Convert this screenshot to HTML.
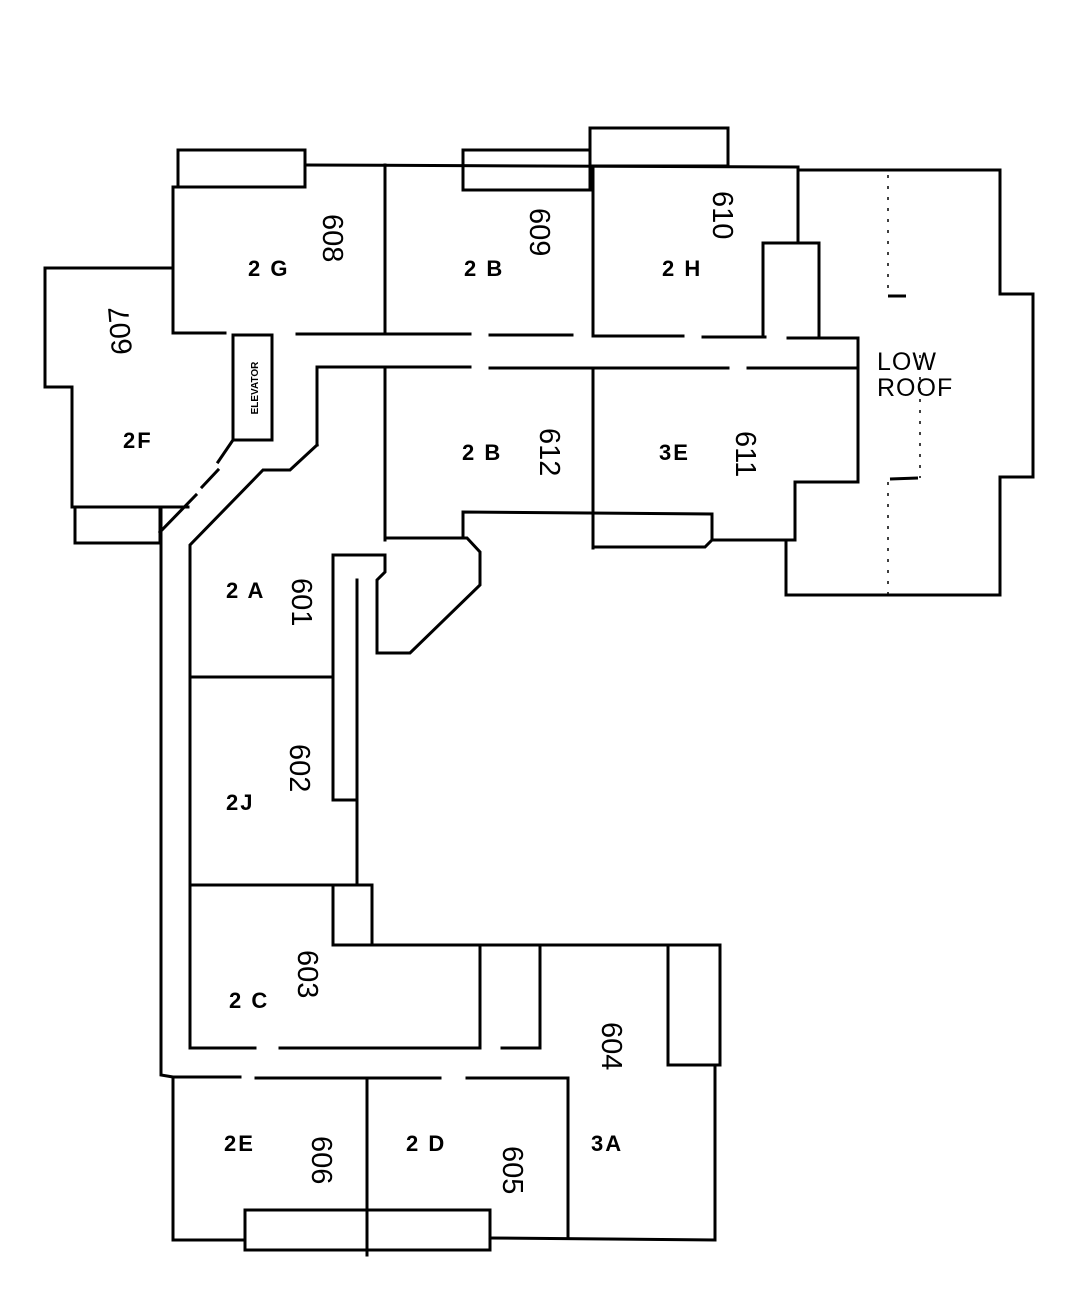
<!DOCTYPE html>
<html><head><style>
html,body{margin:0;padding:0;background:#fff;}
svg{display:block;}
.l{font-family:"Liberation Sans",sans-serif;font-weight:bold;font-size:22px;fill:#000;letter-spacing:2px;}
.n{font-family:"Liberation Sans",sans-serif;font-size:29px;fill:#000;}
</style></head><body>
<svg width="1080" height="1310" viewBox="0 0 1080 1310" xmlns="http://www.w3.org/2000/svg">
<g fill="none" stroke="#000" stroke-width="3" stroke-linecap="square">
<rect x="178" y="150" width="127" height="37"/>
<rect x="463" y="150" width="127" height="40"/>
<rect x="590" y="128" width="138" height="38"/>
<polyline points="173,333 173,187 305,187"/>
<line x1="305" y1="165" x2="798" y2="167"/>
<line x1="385" y1="165" x2="385" y2="333"/>
<line x1="593" y1="167" x2="593" y2="333"/>
<polyline points="798,167 798,243 763,243 763,335"/>
<polyline points="798,243 819,243 819,338"/>
<line x1="173" y1="333" x2="225" y2="333"/>
<line x1="297" y1="334" x2="470" y2="334"/>
<line x1="490" y1="335" x2="572" y2="335"/>
<line x1="593" y1="336" x2="683" y2="336"/>
<line x1="703" y1="337" x2="765" y2="337"/>
<line x1="788" y1="338" x2="858" y2="338"/>
<polyline points="317,445 317,367 470,367"/>
<line x1="490" y1="368" x2="728" y2="368"/>
<line x1="748" y1="368" x2="855" y2="368"/>
<line x1="858" y1="338" x2="858" y2="482"/>
<polyline points="173,268 45,268 45,387 72,387 72,507 188,507"/>
<rect x="75" y="507" width="85" height="36"/>
<rect x="233" y="335" width="39" height="105"/>
<line x1="233" y1="440" x2="218" y2="462"/>
<line x1="218" y1="470" x2="202" y2="487"/>
<line x1="196" y1="495" x2="160" y2="532"/>
<polyline points="161,510 161,1075 173,1077"/>
<polyline points="317,445 290,470 263,470 190,545 190,1048"/>
<line x1="385" y1="367" x2="385" y2="540"/>
<line x1="593" y1="368" x2="593" y2="548"/>
<polyline points="858,482 795,482 795,540 712,540 705,547 593,547"/>
<polyline points="463,538 463,512 712,514 712,540"/>
<polyline points="385,538 467,538 480,552 480,585 410,653 377,653 377,580 385,572 385,555 333,555 333,800 357,800 357,885"/>
<line x1="357" y1="800" x2="357" y2="580"/>
<polyline points="800,170 1000,170 1000,294 1033,294 1033,477 1000,477 1000,595 786,595 786,540"/>
<line x1="190" y1="677" x2="333" y2="677"/>
<polyline points="190,885 372,885 372,945"/>
<polyline points="333,885 333,945 668,945"/>
<line x1="480" y1="945" x2="480" y2="1048"/>
<line x1="190" y1="1048" x2="255" y2="1048"/>
<line x1="280" y1="1048" x2="480" y2="1048"/>
<polyline points="502,1048 540,1048 540,945"/>
<rect x="668" y="945" width="52" height="120"/>
<polyline points="715,1065 715,1240 490,1238"/>
<line x1="173" y1="1077" x2="240" y2="1077"/>
<line x1="256" y1="1078" x2="440" y2="1078"/>
<line x1="467" y1="1078" x2="568" y2="1078"/>
<line x1="568" y1="1078" x2="568" y2="1238"/>
<polyline points="173,1077 173,1240 245,1240"/>
<rect x="245" y="1210" width="245" height="40"/>
<line x1="367" y1="1078" x2="367" y2="1255"/>
</g>
<g fill="none" stroke="#000" stroke-width="1.5" stroke-dasharray="3,8">
<line x1="888" y1="175" x2="888" y2="295"/>
<line x1="920" y1="355" x2="920" y2="478"/>
<line x1="888" y1="482" x2="888" y2="598"/>
</g>
<g stroke="#000" stroke-width="3"><line x1="888" y1="296" x2="906" y2="296"/><line x1="890" y1="479" x2="918" y2="478"/></g>
<text class="l" x="248" y="276">2 G</text>
<text class="l" x="464" y="276">2 B</text>
<text class="l" x="662" y="276">2 H</text>
<text class="l" x="123" y="448">2F</text>
<text class="l" x="462" y="460">2 B</text>
<text class="l" x="659" y="460">3E</text>
<text class="l" x="226" y="598">2 A</text>
<text class="l" x="226" y="810">2J</text>
<text class="l" x="229" y="1008">2 C</text>
<text class="l" x="224" y="1151">2E</text>
<text class="l" x="406" y="1151">2 D</text>
<text class="l" x="591" y="1151">3A</text>
<text class="l" x="877" y="370" style="font-weight:normal;font-size:25px;letter-spacing:1px">LOW</text>
<text class="l" x="877" y="396" style="font-weight:normal;font-size:25px;letter-spacing:1px">ROOF</text>
<text x="258" y="388" text-anchor="middle" transform="rotate(-90 258 388)" style="font-family:'Liberation Sans',sans-serif;font-weight:bold;font-size:10px">ELEVATOR</text>
<g class="n">
<text transform="translate(323,238) rotate(90)" x="-24" y="0">608</text>
<text transform="translate(530,232) rotate(90)" x="-24" y="0">609</text>
<text transform="translate(713,215) rotate(90)" x="-24" y="0">610</text>
<text transform="translate(130,330) rotate(-95)" x="-24" y="0">607</text>
<text transform="translate(540,452) rotate(90)" x="-24" y="0">612</text>
<text transform="translate(736,455) rotate(90)" x="-24" y="0">611</text>
<text transform="translate(292,602) rotate(90)" x="-24" y="0">601</text>
<text transform="translate(290,768) rotate(90)" x="-24" y="0">602</text>
<text transform="translate(298,974) rotate(90)" x="-24" y="0">603</text>
<text transform="translate(602,1046) rotate(90)" x="-24" y="0">604</text>
<text transform="translate(312,1160) rotate(90)" x="-24" y="0">606</text>
<text transform="translate(503,1170) rotate(90)" x="-24" y="0">605</text>
</g>
</svg>
</body></html>
